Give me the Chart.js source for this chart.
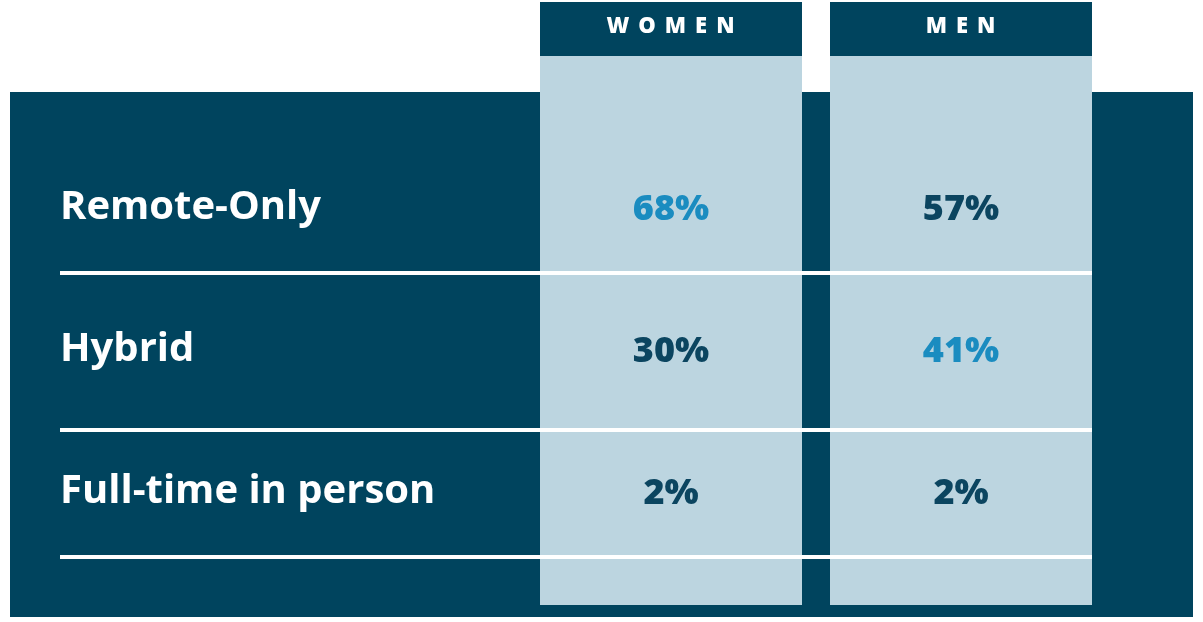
<!DOCTYPE html>
<html><head><meta charset="utf-8">
<script src="https://cdn.jsdelivr.net/npm/chart.js@4"></script>
<style>html,body{margin:0;padding:0;background:#fff}</style>
</head><body>
<canvas id="c" width="1203" height="622"></canvas>
<script>
const columns = ['WOMEN', 'MEN'];
const rows = ['Remote-Only', 'Hybrid', 'Full-time in person'];
const women = [68, 30, 2];
const men = [57, 41, 2];
const highlight = [[true, false], [false, true], [false, false]];

const pts = [];
rows.forEach((r, i) => {
  pts.push({x: columns[0], y: r, v: women[i], h: highlight[i][0]});
  pts.push({x: columns[1], y: r, v: men[i], h: highlight[i][1]});
});

const dark = '#00445e', light = '#bcd5e0', accent = '#1a8cc0', txtDark = '#0b4560';

const tablePlugin = {
  id: 'table',
  beforeDatasetsDraw(chart) {
    const ctx = chart.ctx, xs = chart.scales.x, ys = chart.scales.y;
    const rowStep = ys.getPixelForValue(1) - ys.getPixelForValue(0);
    const colHalf = 131;
    ctx.save();
    ctx.fillStyle = dark;
    ctx.fillRect(10, 92, 1183, 525);
    columns.forEach((c, i) => {
      const cx = xs.getPixelForValue(i);
      ctx.fillStyle = light;
      ctx.fillRect(cx - colHalf, 56, colHalf * 2, 549);
      ctx.fillStyle = dark;
      ctx.fillRect(cx - colHalf, 2, colHalf * 2, 54);
      ctx.fillStyle = '#fff';
      ctx.font = '800 22px "Open Sans"';
      ctx.textAlign = 'center'; ctx.textBaseline = 'middle';
      ctx.letterSpacing = '9px';
      ctx.fillText(c, cx + 4, 27);
      ctx.letterSpacing = '0px';
    });
    const right = xs.getPixelForValue(1) + colHalf;
    ctx.strokeStyle = '#fff'; ctx.lineWidth = 4;
    rows.forEach((r, i) => {
      const cy = ys.getPixelForValue(i);
      const ly = cy + rowStep / 2 + (i === 0 ? -6 : i === 2 ? -6 : 9);
      ctx.beginPath(); ctx.moveTo(60, ly); ctx.lineTo(right, ly); ctx.stroke();
      ctx.fillStyle = '#fff';
      ctx.font = 'bold 40px "Open Sans"';
      ctx.textAlign = 'left'; ctx.textBaseline = 'middle';
      ctx.fillText(r, 60, cy);
    });
    ctx.restore();
  },
  afterDatasetsDraw(chart) {
    const ctx = chart.ctx, meta = chart.getDatasetMeta(0);
    ctx.save();
    ctx.font = '800 36px "Open Sans"';
    ctx.textAlign = 'center'; ctx.textBaseline = 'middle';
    meta.data.forEach((p, i) => {
      const d = pts[i];
      ctx.fillStyle = d.h ? accent : txtDark;
      ctx.fillText(d.v + '%', p.x, p.y + 2);
    });
    ctx.restore();
  }
};

new Chart(document.getElementById('c'), {
  type: 'line',
  data: { datasets: [{ data: pts, showLine: false, pointRadius: 0 }] },
  options: {
    responsive: false, animation: false,
    layout: { padding: { left: 526, right: 97, top: 137, bottom: 59 } },
    plugins: { legend: { display: false }, tooltip: { enabled: false } },
    scales: {
      x: { type: 'category', labels: columns, offset: true, display: false },
      y: { type: 'category', labels: rows, offset: true, display: false }
    }
  },
  plugins: [tablePlugin]
});
</script>
</body></html>
